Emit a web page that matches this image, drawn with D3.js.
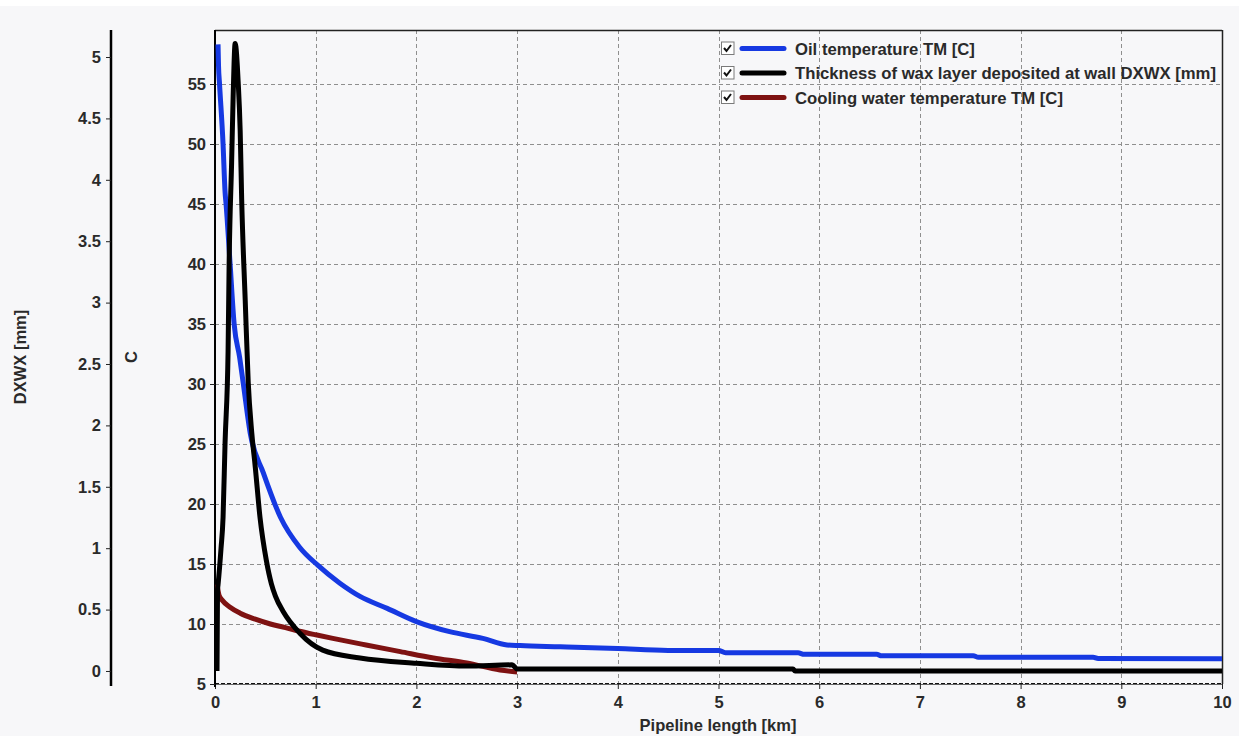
<!DOCTYPE html>
<html>
<head>
<meta charset="utf-8">
<script src="https://cdn.jsdelivr.net/npm/d3@7"></script>
<style>
  html, body { margin: 0; padding: 0; background: #f7f7f9; }
  svg { display: block; }
  text { font-family: "Liberation Sans", Arial, sans-serif; font-weight: bold; fill: #2a2a2a; }
</style>
</head>
<body>
<svg id="chart" width="1239" height="736"></svg>
<script>
// ---- data ----
const xTicks = [0, 1, 2, 3, 4, 5, 6, 7, 8, 9, 10];
const cTicks = [5, 10, 15, 20, 25, 30, 35, 40, 45, 50, 55];
const mmTicks = [0, 0.5, 1, 1.5, 2, 2.5, 3, 3.5, 4, 4.5, 5];

const oilX = [0.03, 0.035, 0.045, 0.08, 0.1, 0.11, 0.15, 0.19, 0.245, 0.28, 0.35, 0.48, 0.65, 0.84, 1.02, 1.24, 1.44, 1.71, 2.0, 2.33, 2.66, 2.9, 3.03, 3.43, 4.0, 4.5, 5.0, 5.07, 5.79, 5.85, 6.57, 6.62, 7.53, 7.58, 8.72, 8.77, 10.0];
const oilT = [58.3, 56.5, 55.0, 50.0, 46.0, 45.0, 40.0, 35.0, 32.2, 30.1, 25.9, 22.6, 18.9, 16.4, 14.9, 13.4, 12.3, 11.3, 10.2, 9.36, 8.8, 8.25, 8.2, 8.1, 7.95, 7.8, 7.8, 7.6, 7.6, 7.47, 7.47, 7.35, 7.35, 7.23, 7.23, 7.12, 7.1];

const waxX = [0.02, 0.025, 0.03, 0.06, 0.08, 0.1, 0.13, 0.14, 0.165, 0.18, 0.2, 0.23, 0.25, 0.265, 0.3, 0.33, 0.365, 0.4, 0.447, 0.51, 0.56, 0.6, 0.68, 0.84, 1.07, 1.44, 2.0, 2.5, 2.95, 3.0, 5.74, 5.76, 10.0];
const waxD = [0.0, 0.66, 0.7, 1.0, 1.25, 1.86, 2.61, 3.3, 4.14, 4.67, 5.11, 4.8, 4.4, 3.84, 3.02, 2.35, 1.94, 1.66, 1.25, 0.9, 0.71, 0.61, 0.48, 0.31, 0.17, 0.106, 0.063, 0.04, 0.05, 0.016, 0.016, 0.0, 0.0];

const waterX = [0.02, 0.04, 0.07, 0.15, 0.25, 0.4, 0.55, 0.7, 0.84, 1.0, 1.17, 1.5, 1.84, 2.17, 2.5, 2.83, 3.0];
const waterT = [13.3, 12.4, 12.0, 11.4, 10.9, 10.4, 10.0, 9.7, 9.4, 9.1, 8.8, 8.25, 7.7, 7.17, 6.75, 6.17, 6.0];

const legendLabels = ["Oil temperature TM [C]", "Thickness of wax layer deposited at wall DXWX [mm]", "Cooling water temperature TM [C]"];
const seriesColors = ["#1639e2", "#000000", "#7e1212"];

// ---- layout ----
const svg = d3.select("#chart");
const L = 215, R = 1222, T = 30, B = 684;
const mmAxisX = 111;
const FS = "16.5px";

const x = d3.scaleLinear().domain([0, 10]).range([L, R]);
const yC = d3.scaleLinear().domain([5, 59.5]).range([B, T]);
const yMM = d3.scaleLinear().domain([-0.106, 5.22]).range([B, T]);

svg.append("rect").attr("x", 0).attr("y", 0).attr("width", 1239).attr("height", 736).attr("fill", "#f7f7f9");
svg.append("rect").attr("x", 0).attr("y", 0).attr("width", 1239).attr("height", 6).attr("fill", "#ffffff");

// grid
const grid = svg.append("g").attr("stroke", "#8f8f8f").attr("stroke-dasharray", "4,3").attr("stroke-width", 1);
grid.selectAll("line.v").data(xTicks.filter(d => d > 0 && d < 10)).enter().append("line")
  .attr("x1", d => Math.round(x(d)) + 0.5).attr("x2", d => Math.round(x(d)) + 0.5)
  .attr("y1", T).attr("y2", B);
grid.selectAll("line.h").data(cTicks.filter(d => d > 5)).enter().append("line")
  .attr("y1", d => Math.round(yC(d)) + 0.5).attr("y2", d => Math.round(yC(d)) + 0.5)
  .attr("x1", L).attr("x2", R);

// frame
svg.append("line").attr("x1", L).attr("x2", R).attr("y1", T + 0.5).attr("y2", T + 0.5).attr("stroke", "#222").attr("stroke-width", 1.5);
svg.append("line").attr("x1", R + 0.5).attr("x2", R + 0.5).attr("y1", T).attr("y2", B).attr("stroke", "#222").attr("stroke-width", 1.5);
svg.append("line").attr("x1", L).attr("x2", R).attr("y1", B + 0.5).attr("y2", B + 0.5).attr("stroke", "#666").attr("stroke-width", 1);
svg.append("line").attr("x1", L).attr("x2", R).attr("y1", B - 0.5).attr("y2", B - 0.5).attr("stroke", "#111").attr("stroke-dasharray", "4,2").attr("stroke-width", 1.2);

// axes
function styleAxis(g) {
  g.selectAll("text").style("font-size", FS).style("font-weight", "bold").attr("fill", "#2a2a2a")
    .style("font-family", "'Liberation Sans', Arial, sans-serif");
  g.selectAll("line").attr("stroke", "#222");
}
const xAxis = svg.append("g").attr("transform", `translate(0,${B})`)
  .call(d3.axisBottom(x).tickValues(xTicks).tickFormat(d3.format("d")).tickSize(5).tickPadding(7));
xAxis.select(".domain").remove();
styleAxis(xAxis);

const cAxis = svg.append("g").attr("transform", `translate(${L},0)`)
  .call(d3.axisLeft(yC).tickValues(cTicks).tickFormat(d3.format("d")).tickSize(5).tickPadding(4));
cAxis.select(".domain").attr("stroke", "#000").attr("stroke-width", 2).attr("d", `M0,${T}V${B + 3}`);
styleAxis(cAxis);

const mmAxis = svg.append("g").attr("transform", `translate(${mmAxisX},0)`)
  .call(d3.axisLeft(yMM).tickValues(mmTicks).tickFormat(d => String(d)).tickSize(5).tickPadding(5));
mmAxis.select(".domain").attr("stroke", "#000").attr("stroke-width", 2.5).attr("d", `M0,${T}V${B + 2}`);
styleAxis(mmAxis);

// axis titles
svg.append("text").attr("transform", `translate(26,357) rotate(-90)`).attr("text-anchor", "middle")
  .style("font-size", FS).text("DXWX [mm]");
svg.append("text").attr("transform", `translate(137,357) rotate(-90)`).attr("text-anchor", "middle")
  .style("font-size", FS).text("C");
svg.append("text").attr("x", 718).attr("y", 731).attr("text-anchor", "middle")
  .style("font-size", FS).text("Pipeline length [km]");

// clip
svg.append("clipPath").attr("id", "clip").append("rect").attr("x", L).attr("y", T).attr("width", R - L).attr("height", B - T);
const plot = svg.append("g").attr("clip-path", "url(#clip)");

const lineC = d3.line().x(d => x(d[0])).y(d => yC(d[1])).curve(d3.curveMonotoneX);
const lineMM = d3.line().x(d => x(d[0])).y(d => yMM(d[1])).curve(d3.curveMonotoneX);

plot.append("path").datum(waterX.map((v, i) => [v, waterT[i]])).attr("d", lineC)
  .attr("fill", "none").attr("stroke", seriesColors[2]).attr("stroke-width", 5).attr("stroke-linejoin", "round");
plot.append("path").datum(oilX.map((v, i) => [v, oilT[i]])).attr("d", lineC)
  .attr("fill", "none").attr("stroke", seriesColors[0]).attr("stroke-width", 5).attr("stroke-linejoin", "round");
plot.append("path").datum(waxX.map((v, i) => [v, waxD[i]])).attr("d", lineMM)
  .attr("fill", "none").attr("stroke", seriesColors[1]).attr("stroke-width", 5).attr("stroke-linejoin", "round");

// legend
const leg = svg.append("g");
legendLabels.forEach((lab, i) => {
  const cy = 48.5 + i * 24.5;
  const g = leg.append("g");
  g.append("rect").attr("x", 721.5).attr("y", cy - 6.5).attr("width", 12.5).attr("height", 12.5)
    .attr("fill", "#ffffff").attr("stroke", "#7a7a7a").attr("stroke-width", 1);
  g.append("path").attr("d", `M${724},${cy - 0.5} L${726.5},${cy + 2.5} L${731},${cy - 3.5}`)
    .attr("fill", "none").attr("stroke", "#111").attr("stroke-width", 2);
  g.append("line").attr("x1", 742).attr("x2", 784).attr("y1", cy).attr("y2", cy)
    .attr("stroke", seriesColors[i]).attr("stroke-width", 5).attr("stroke-linecap", "round");
  g.append("text").attr("x", 795).attr("y", cy + 6).style("font-size", "16.7px").text(lab);
});
</script>
</body>
</html>
